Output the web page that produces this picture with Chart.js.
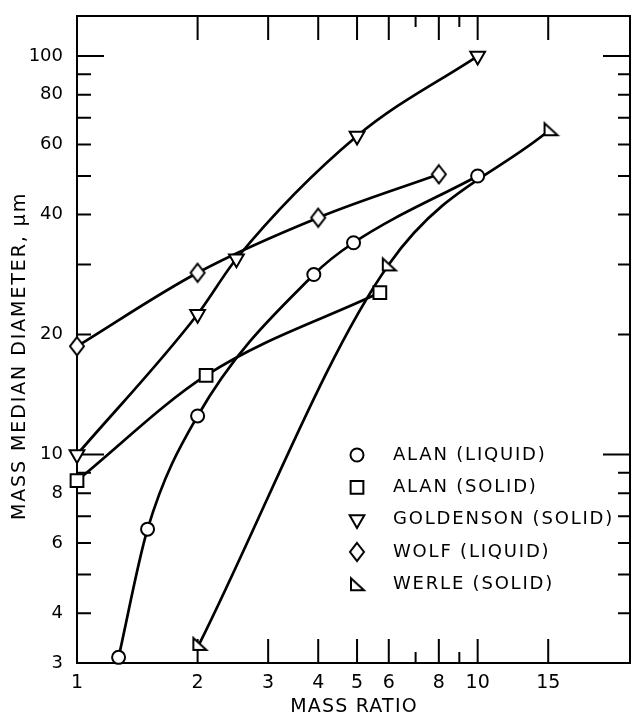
<!DOCTYPE html>
<html>
<head>
<meta charset="utf-8">
<script src="https://cdn.jsdelivr.net/npm/chart.js@4.4.0/dist/chart.umd.min.js"></script>
<style>
  html, body { margin: 0; padding: 0; background: #fff; overflow: hidden; }
  #wrap { width: 632px; height: 717px; position: relative; }
  canvas { display: block; }
</style>
</head>
<body>
<div id="wrap"><canvas id="massChart"></canvas></div>
<script>
// tick labels and tick marks
const xTickLabels = [1, 2, 3, 4, 5, 6, 8, 10, 15];
const xTickMarks = [2, 3, 4, 5, 6, 7, 8, 9, 10, 15];
const xShortTicks = [7, 9];
const yTickLabels = [3, 4, 6, 8, 10, 20, 40, 60, 80, 100];
const yTickMarks = [4, 5, 6, 7, 8, 9, 10, 20, 30, 40, 50, 60, 70, 80, 90, 100];
const yLongTicks = [10, 100];

const seriesNames = ["ALAN (LIQUID)", "ALAN (SOLID)", "GOLDENSON (SOLID)", "WOLF (LIQUID)", "WERLE (SOLID)"];

// values (mass ratio, diameter in um)
const alanLiquidX = [1.27, 1.5, 2.0, 3.9, 4.9, 10];
const alanLiquidY = [3.1, 6.5, 12.5, 28.3, 34, 50];
const alanSolidX = [1, 2.1, 5.7];
const alanSolidY = [8.6, 15.8, 25.5];
const goldensonX = [1, 2.0, 2.5, 5.0, 10];
const goldensonY = [10, 22.5, 31, 63, 100];
const wolfX = [1, 2.0, 4.0, 8.0];
const wolfY = [18.7, 28.6, 39.3, 50.5];
const werleX = [2.02, 6.0, 15.2];
const werleY = [3.35, 30, 65.5];

const toPoints = (xs, ys) => xs.map((v, i) => ({ x: v, y: ys[i] }));

// custom marker shapes
function makeMarker(draw) {
  const c = document.createElement("canvas");
  c.width = 20; c.height = 22;
  const g = c.getContext("2d");
  g.lineWidth = 2;
  g.strokeStyle = "#000";
  g.fillStyle = "#fff";
  g.beginPath();
  draw(g);
  g.closePath();
  g.fill();
  g.stroke();
  return c;
}
const diamond = makeMarker(g => {
  g.moveTo(10, 2); g.lineTo(17, 11); g.lineTo(10, 20); g.lineTo(3, 11);
});
const rightTri = makeMarker(g => {
  g.moveTo(4, 5); g.lineTo(4, 17); g.lineTo(17, 17);
});

const common = {
  borderColor: "#000",
  borderWidth: 2.7,
  pointBackgroundColor: "#fff",
  pointBorderColor: "#000",
  pointBorderWidth: 2,
  cubicInterpolationMode: "monotone",
  clip: false
};

const datasets = [
  { label: seriesNames[0], data: toPoints(alanLiquidX, alanLiquidY), pointStyle: "circle", pointRadius: 6.5 },
  { label: seriesNames[1], data: toPoints(alanSolidX, alanSolidY), pointStyle: "rect", pointRadius: 9 },
  { label: seriesNames[2], data: toPoints(goldensonX, goldensonY), pointStyle: "triangle", pointRadius: 8.5, pointRotation: 180 },
  { label: seriesNames[3], data: toPoints(wolfX, wolfY), pointStyle: diamond, pointRadius: 9 },
  { label: seriesNames[4], data: toPoints(werleX, werleY), pointStyle: rightTri, pointRadius: 9 }
].map(d => Object.assign({}, common, d));

const FONT = "DejaVu Sans";

const decorations = {
  id: "decorations",
  beforeDatasetsDraw(chart) {
    const { ctx, chartArea: a, scales: { x, y } } = chart;
    ctx.save();
    ctx.strokeStyle = "#000";
    ctx.lineWidth = 2;
    ctx.strokeRect(a.left, a.top, a.right - a.left, a.bottom - a.top);
    ctx.beginPath();
    xTickMarks.forEach(v => {
      const px = x.getPixelForValue(v);
      const len = xShortTicks.includes(v) ? 11 : 24;
      ctx.moveTo(px, a.bottom); ctx.lineTo(px, a.bottom - len);
      ctx.moveTo(px, a.top); ctx.lineTo(px, a.top + len);
    });
    yTickMarks.forEach(v => {
      const py = y.getPixelForValue(v);
      const long = yLongTicks.includes(v);
      ctx.moveTo(a.left, py); ctx.lineTo(a.left + (long ? 27 : 14), py);
      ctx.moveTo(a.right, py); ctx.lineTo(a.right - (long ? 27 : 12), py);
    });
    ctx.stroke();
    ctx.restore();
  },
  afterDraw(chart) {
    const { ctx } = chart;
    ctx.save();
    ctx.textBaseline = "middle";
    // legend
    ctx.font = "18px '" + FONT + "'";
    ctx.letterSpacing = "1.8px";
    ctx.textAlign = "left";
    chart.data.datasets.forEach((ds, i) => {
      const cy = 455 + i * 32.3;
      ctx.fillStyle = "#fff";
      ctx.strokeStyle = "#000";
      ctx.lineWidth = 2;
      Chart.helpers.drawPoint(ctx, {
        pointStyle: ds.pointStyle,
        radius: ds.pointRadius,
        rotation: ds.pointRotation || 0,
        borderWidth: 2
      }, 357, cy);
      ctx.fillStyle = "#000";
      ctx.fillText(ds.label, 393, cy);
    });
    // axis titles
    ctx.fillStyle = "#000";
    ctx.font = "19px '" + FONT + "'";
    ctx.letterSpacing = "1.2px";
    ctx.textAlign = "center";
    ctx.fillText("MASS RATIO", 354, 707);
    ctx.save();
    ctx.translate(20, 356);
    ctx.rotate(-Math.PI / 2);
    ctx.letterSpacing = "1.9px";
    ctx.fillText("MASS MEDIAN DIAMETER, \u03bcm", 0, 0);
    ctx.restore();
    ctx.restore();
  }
};

const zeroPad = s => { s.paddingTop = 0; s.paddingBottom = 0; s.paddingLeft = 0; s.paddingRight = 0; };

const ctx = document.getElementById("massChart");
Chart.defaults.font.family = FONT;
Chart.defaults.color = "#000";

new Chart(ctx, {
  type: "line",
  data: { datasets },
  options: {
    responsive: true,
    maintainAspectRatio: false,
    animation: false,
    layout: { autoPadding: false, padding: { top: 16, right: 2, left: 0, bottom: 0 } },
    plugins: { legend: { display: false }, tooltip: { enabled: false } },
    scales: {
      x: {
        type: "logarithmic",
        min: 1,
        max: 24,
        grid: { display: false, drawTicks: false },
        border: { display: false },
        afterBuildTicks: s => { s.ticks = xTickLabels.map(v => ({ value: v })); },
        afterFit: s => { s.height = 54; zeroPad(s); },
        ticks: { font: { size: 19 }, padding: 9, maxRotation: 0, autoSkip: false, callback: v => String(v) }
      },
      y: {
        type: "logarithmic",
        min: 3,
        max: 126,
        grid: { display: false, drawTicks: false },
        border: { display: false },
        afterBuildTicks: s => { s.ticks = yTickLabels.map(v => ({ value: v })); },
        afterFit: s => { s.width = 77; zeroPad(s); },
        ticks: { font: { size: 18 }, padding: 14, autoSkip: false, callback: v => String(v) }
      }
    }
  },
  plugins: [decorations]
});
</script>
</body>
</html>
